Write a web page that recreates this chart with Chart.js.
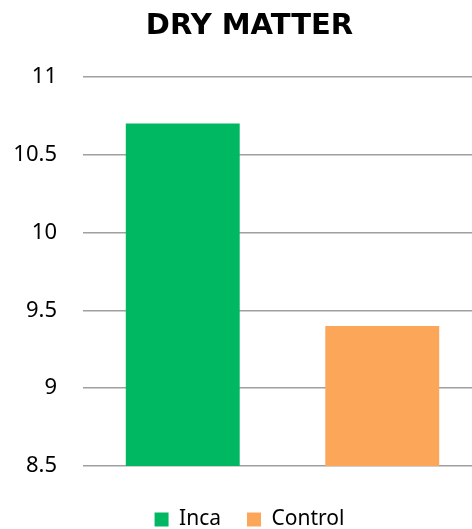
<!DOCTYPE html>
<html>
<head>
<meta charset="utf-8">
<script src="https://cdn.jsdelivr.net/npm/chart.js@4/dist/chart.umd.min.js"></script>
<style>
  html, body { margin: 0; padding: 0; overflow: hidden; background: #fff; }
  #wrap { position: absolute; left: 0; top: 0; width: 499px; height: 540px; }
</style>
</head>
<body>
<div id="wrap"><canvas id="chart"></canvas></div>
<script>
const seriesNames = ['Inca', 'Control'];
const seriesValues = [10.7, 9.4];
const seriesColors = ['#00B861', '#FCA65A'];
const yTicks = [8.5, 9, 9.5, 10, 10.5, 11];

const ctx = document.getElementById('chart').getContext('2d');

new Chart(ctx, {
  type: 'bar',
  data: {
    labels: ['Dry matter'],
    datasets: seriesNames.map((name, i) => ({
      label: name,
      data: [seriesValues[i]],
      backgroundColor: seriesColors[i],
      borderWidth: 0,
      barPercentage: 0.571,
      categoryPercentage: 1
    }))
  },
  options: {
    responsive: true,
    maintainAspectRatio: false,
    animation: false,
    layout: { padding: 0 },
    plugins: {
      title: {
        display: true,
        text: 'DRY MATTER',
        color: '#000',
        font: { family: 'DejaVu Sans', size: 29, weight: 'bold' },
        padding: { top: 9, bottom: 33 }
      },
      legend: {
        position: 'bottom',
        labels: {
          color: '#000',
          font: { family: 'Noto Sans', size: 21 },
          boxWidth: 14,
          boxHeight: 14,
          padding: 26
        }
      },
      tooltip: { enabled: false }
    },
    scales: {
      x: {
        display: true,
        afterFit: (s) => { s.height = 17; },
        grid: { display: false },
        border: { display: false },
        ticks: { display: false }
      },
      y: {
        min: yTicks[0],
        max: yTicks[yTicks.length - 1],
        afterBuildTicks: (s) => { s.ticks = yTicks.map(v => ({ value: v })); },
        afterFit: (s) => { s.width = 83; },
        grid: { color: '#A0A0A0', lineWidth: 1.5, drawTicks: false },
        border: { display: false },
        ticks: {
          color: '#000',
          font: { family: 'Noto Sans', size: 22 },
          padding: 26,
          callback: (v) => String(v)
        }
      },
      // empty spacer on the right, the source picture is cut off there
      y2: {
        position: 'right',
        display: true,
        afterFit: (s) => { s.width = 17; },
        grid: { display: false },
        border: { display: false },
        ticks: { display: false }
      }
    }
  }
});
</script>
</body>
</html>
